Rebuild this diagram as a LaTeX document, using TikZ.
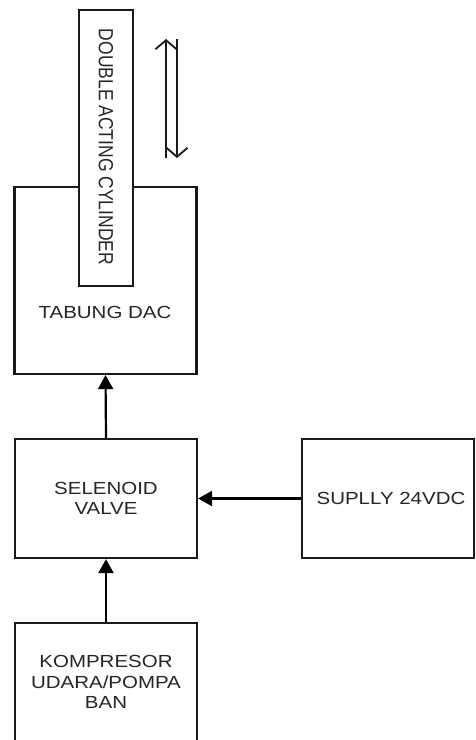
\documentclass[tikz,border=0pt]{standalone}
\usepackage{fontspec}
\setmainfont{Liberation Sans}[FakeStretch=1.17]
\newfontfamily\plainsans{Liberation Sans}
\usetikzlibrary{arrows.meta}
\tikzset{
  blk/.style={draw=black!90, line width=2.2pt, fill=white, inner sep=0pt},
  lbl/.style={text=black!85, font=\fontsize{17.5pt}{20.5pt}\selectfont, align=center, inner sep=0pt},
  flow/.style={draw=black, line width=2.2pt, -{Triangle[width=15pt,length=14pt]}},
  motion/.style={draw=black!90, line width=1.8pt},
}
\begin{document}
\begin{tikzpicture}[x=1pt,y=-1pt]
\clip (0,0) rectangle (475,740);
\fill[white] (0,0) rectangle (475,740);
% boxes
\node[blk, minimum width=182pt, minimum height=187pt] (tabung) at (105.5,280.5) {};
\node[lbl] (tabungtxt) at (105,312) {TABUNG DAC};
\node[blk, minimum width=54pt, minimum height=276pt] (cyl) at (106,148) {};
\node[lbl, rotate=-90] (cyltxt) at (106,147) {\plainsans\scalebox{1}[1.17]{DOUBLE ACTING CYLINDER}};
\node[blk, minimum width=182pt, minimum height=119pt, lbl] (valve) at (106,498.5) {SELENOID\\VALVE};
\node[blk, minimum width=172pt, minimum height=119pt, lbl] (supply) at (388,498.5) {\hspace*{6pt}SUPLLY 24VDC};
\node[blk, minimum width=182pt, minimum height=150pt] (komp) at (106,698) {};
\node[lbl] (komptxt) at (106,682) {KOMPRESOR\\UDARA/POMPA\\BAN};
% connectors
\draw[flow] (valve.north) -- (tabung.south);
\draw[flow] (komp.north) -- (valve.south);
\draw[flow] (supply.west) -- (valve.east);
% motion arrow
\coordinate (upA) at (166,158);
\coordinate (upB) at (166,39);
\coordinate (dnA) at (177,39);
\coordinate (dnB) at (177,158);
\draw[motion, -{Straight Barb[width=21pt,length=9pt]}] (upA) -- (upB);
\draw[motion, -{Straight Barb[width=21pt,length=9pt]}] (dnA) -- (dnB);
\end{tikzpicture}
\end{document}
